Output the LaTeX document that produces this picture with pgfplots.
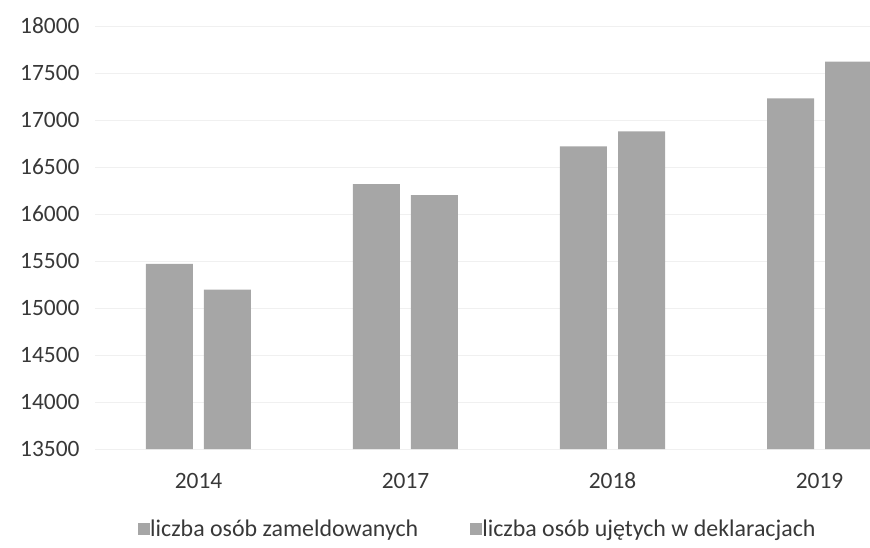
\documentclass[border=0pt]{standalone}
\usepackage{pgfplots}
\pgfplotsset{compat=1.18}
\usepackage{fontspec}
\setmainfont{Carlito}
\definecolor{barc}{HTML}{A6A6A6}
\definecolor{txt}{HTML}{383838}
\begin{document}
\fontsize{23.5}{28}\selectfont
\begin{tikzpicture}
\begin{axis}[
  at={(0,0)}, anchor=south west,
  scale only axis, width=775bp, height=423bp,
  xmin=-0.5, xmax=3.244, ymin=13500, ymax=18000,
  ytick={13500,14000,...,18000},
  scaled y ticks=false,
  yticklabel style={/pgf/number format/fixed, /pgf/number format/precision=0, /pgf/number format/1000 sep={}, xshift=-7.5bp},
  xtick={0,1,2,3}, xticklabels={2014,2017,2018,2019},
  ybar=11bp, bar width=47bp,
  axis line style={draw=none}, major tick length=0pt,
  ymajorgrids, grid style={black!6, line width=1bp},
  tick label style={font=\fontsize{23.5}{28}\selectfont, text=txt},
  /pgf/number format/assume math mode=true,
  xticklabel style={yshift=-16bp},
  legend style={at={(0.494,-0.1915)}, anchor=center, draw=none, fill=none,
    legend columns=2, font=\fontsize{24}{28}\selectfont, text=txt,
    /tikz/every even column/.append style={column sep=50bp},
    /tikz/every odd column/.append style={column sep=-2bp}},
  legend image code/.code={\fill[barc] (0bp,-5bp) rectangle (12bp,7bp);},
]
\addplot[fill=barc, draw=none] coordinates {(0,15470) (1,16317) (2,16720) (3,17230)};
\addplot[fill=barc, draw=none] coordinates {(0,15195) (1,16200) (2,16880) (3,17620)};
\legend{liczba osób zameldowanych, liczba osób ujętych w deklaracjach}
\end{axis}
\pgfresetboundingbox
\path[use as bounding box] (-95bp,-99bp) rectangle (775bp,449bp);
\end{tikzpicture}
\end{document}
